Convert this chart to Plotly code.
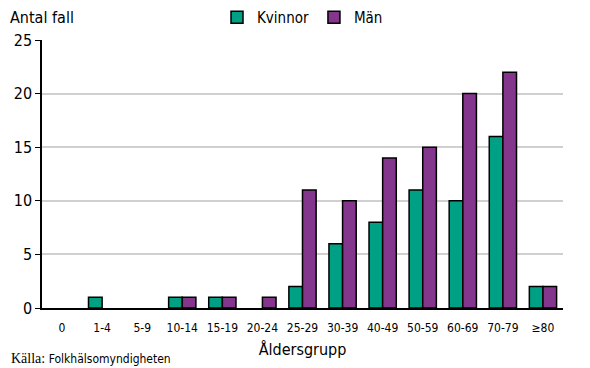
import plotly.graph_objects as go

categories = ["0", "1-4", "5-9", "10-14", "15-19", "20-24", "25-29", "30-39", "40-49", "50-59", "60-69", "70-79", "≥80"]
kvinnor = [0, 1, 0, 1, 1, 0, 2, 6, 8, 11, 10, 16, 2]
man = [0, 0, 0, 1, 1, 1, 11, 10, 14, 15, 20, 22, 2]
y_ticks = [0, 5, 10, 15, 20, 25]


def nz(vals):
    return [v if v else None for v in vals]


fig = go.Figure()
fig.add_trace(go.Bar(x=categories, y=nz(kvinnor), name="Kvinnor",
                     marker=dict(color="#00A084", line=dict(color="black", width=1.5))))
fig.add_trace(go.Bar(x=categories, y=nz(man), name="Män",
                     marker=dict(color="#83368C", line=dict(color="black", width=1.5))))

# page body has an 8px margin, so the figure is sized/placed to compensate
fig.update_layout(
    width=582, height=360,
    margin=dict(l=34, r=27, t=32, b=60, autoexpand=False),
    paper_bgcolor="white", plot_bgcolor="white",
    barmode="group", bargap=0.32, bargroupgap=0,
    font=dict(family="DejaVu Sans", color="black"),
    showlegend=True,
    legend=dict(orientation="h", x=0.5, xanchor="center", y=1.084, yanchor="middle",
                font=dict(size=15, family="DejaVu Sans Condensed"), itemwidth=30,
                traceorder="normal", tracegroupgap=0, bgcolor="rgba(0,0,0,0)"),
    xaxis=dict(showline=True, linecolor="black", linewidth=1.5, ticks="",
               ticklabelstandoff=8,
               tickfont=dict(size=12, family="DejaVu Sans Condensed"),
               title=dict(text="Åldersgrupp", font=dict(size=16, family="DejaVu Sans Condensed"), standoff=10)),
    yaxis=dict(range=[0, 25], tickvals=y_ticks, showgrid=True, gridcolor="#D0D0D0", gridwidth=1.5,
               showline=True, linecolor="black", linewidth=1.5, ticks="outside", ticklen=5,
               tickcolor="black", zeroline=False,
               tickfont=dict(size=16, family="DejaVu Sans Condensed")),
    annotations=[
        dict(text="Antal fall", xref="paper", yref="paper", x=-0.065, y=1.084, xanchor="left", yanchor="middle",
             showarrow=False, font=dict(size=16, family="DejaVu Sans Condensed")),
        dict(text="Källa: <span style='font-family:DejaVu Sans Condensed;font-size:12px'>Folkhälsomyndigheten</span>",
             xref="paper", yref="paper", x=-0.063, y=-0.19, xanchor="left", yanchor="middle",
             showarrow=False, font=dict(size=14, family="Liberation Serif")),
    ],
)
fig.write_html("out.html")
